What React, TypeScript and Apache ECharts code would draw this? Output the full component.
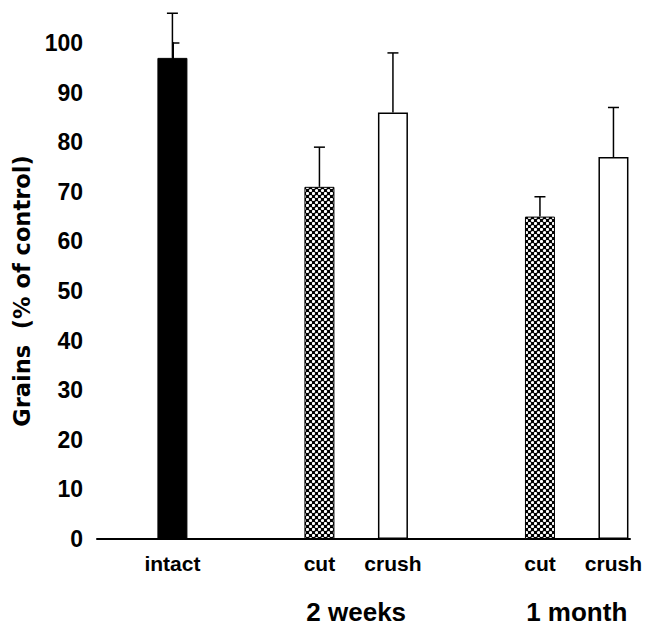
import React, { useEffect, useRef } from "react";
import * as echarts from "echarts";

const categories = ["intact", "cut", "crush", "cut", "crush"];
const slots = [0, 2, 3, 5, 6];
const means = [97, 71, 86, 65, 77];
const errorTops = [106, 79, 98, 69, 87];
const fills = ["solid", "hatch", "open", "hatch", "open"];
const groups = ["2 weeks", "1 month"];
const groupSlots = [2.5, 5.5];
const yMin = 0;
const yMax = 100;
const yStep = 10;

function makePattern(): any {
  const c = document.createElement("canvas");
  c.width = 6;
  c.height = 6;
  const ctx = c.getContext("2d")!;
  ctx.fillStyle = "#000";
  ctx.fillRect(0, 0, 6, 6);
  ctx.fillStyle = "#fff";
  ctx.beginPath();
  ctx.arc(1.5, 1.5, 1.6, 0, Math.PI * 2);
  ctx.fill();
  ctx.beginPath();
  ctx.arc(4.5, 4.5, 1.6, 0, Math.PI * 2);
  ctx.fill();
  return { image: c, repeat: "repeat", imageWidth: 6, imageHeight: 6 };
}

export default function App() {
  const ref = useRef<HTMLDivElement>(null);
  useEffect(() => {
    if (!ref.current) return;
    const chart = echarts.init(ref.current, null, { renderer: "svg" });
    const pattern = makePattern();
    const barData = slots.map((s, i) => {
      const f = fills[i];
      let itemStyle: any;
      if (f === "solid") itemStyle = { color: "#000", borderColor: "#000", borderWidth: 1 };
      else if (f === "hatch") itemStyle = { color: pattern, borderColor: "#000", borderWidth: 1 };
      else itemStyle = { color: "#fff", borderColor: "#000", borderWidth: 1.5 };
      return { value: [s, means[i]], itemStyle };
    });
    const labelFont = "'Liberation Sans', Arial, sans-serif";
    chart.setOption({
      animation: false,
      backgroundColor: "#fff",
      grid: { left: 97, right: 24, top: 43, bottom: 87, containLabel: false },
      xAxis: {
        type: "value",
        min: -1.026,
        max: 6.225,
        axisLine: { show: true, onZero: false, lineStyle: { color: "#000", width: 2 } },
        axisTick: { show: false },
        splitLine: { show: false },
        axisLabel: {
          customValues: slots,
          formatter: (v: number) => {
            const idx = slots.indexOf(Math.round(v));
            return idx >= 0 ? categories[idx] : "";
          },
          color: "#000",
          fontFamily: labelFont,
          fontWeight: "bold",
          fontSize: 21,
          margin: 14,
        },
      },
      yAxis: {
        type: "value",
        min: yMin,
        max: yMax,
        interval: yStep,
        name: "Grains  (% of control)",
        nameLocation: "middle",
        nameRotate: 90,
        nameGap: 56,
        nameTextStyle: {
          color: "#000",
          fontFamily: "'DejaVu Sans', sans-serif",
          fontWeight: "bold",
          fontSize: 22.5,
        },
        axisLine: { show: true, lineStyle: { color: "#000", width: 2 } },
        axisTick: { show: true, inside: true, length: 7, lineStyle: { color: "#000", width: 1.5 } },
        minorTick: { show: true, splitNumber: 2, length: 4, lineStyle: { color: "#000", width: 1.5 } },
        splitLine: { show: false },
        axisLabel: {
          color: "#000",
          fontFamily: labelFont,
          fontWeight: "bold",
          fontSize: 23,
          margin: 14,
        },
      },
      series: [
        {
          type: "bar",
          barWidth: 30,
          data: barData,
          z: 2,
        },
        {
          type: "custom",
          z: 3,
          clip: false,
          data: slots.map((s, i) => [s, means[i], errorTops[i]]),
          renderItem: (params: any, api: any) => {
            const x = api.value(0);
            const base = api.coord([x, api.value(1)]);
            const top = api.coord([x, api.value(2)]);
            const style = { stroke: "#000", lineWidth: 1.5 };
            return {
              type: "group",
              children: [
                { type: "line", shape: { x1: base[0], y1: base[1], x2: top[0], y2: top[1] }, style },
                { type: "line", shape: { x1: top[0] - 5.5, y1: top[1], x2: top[0] + 5.5, y2: top[1] }, style },
              ],
            };
          },
        },
        {
          type: "custom",
          z: 3,
          clip: false,
          silent: true,
          data: groupSlots.map((g) => [g, 0]),
          renderItem: (params: any, api: any) => {
            const p = api.coord([api.value(0), 0]);
            return {
              type: "text",
              x: p[0],
              y: p[1] + 73,
              style: {
                text: groups[params.dataIndex],
                fill: "#000",
                font: "bold 26px 'Liberation Sans', Arial, sans-serif",
                align: "center",
                verticalAlign: "middle",
              },
            };
          },
        },
      ],
    });
    return () => chart.dispose();
  }, []);
  return (
    <div
      ref={ref}
      style={{ position: "fixed", left: 0, top: 0, width: 654, height: 626, background: "#fff" }}
    />
  );
}
